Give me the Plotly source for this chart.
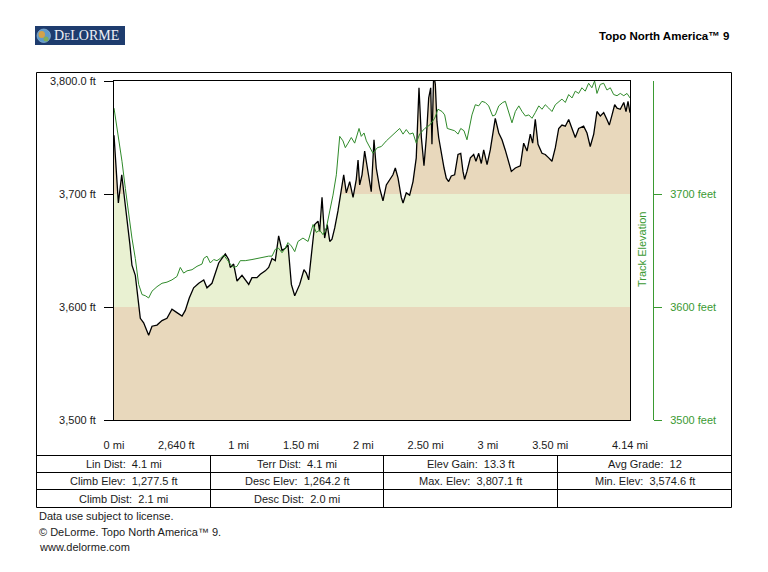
import plotly.graph_objects as go

W, H = 768, 572


def px(x):
    return x / W


def py(y):
    return 1 - y / H


# ---------------- data ----------------
terrain_mi = [0.000, 0.035, 0.062, 0.088, 0.110, 0.128, 0.144, 0.171, 0.211, 0.238, 0.278, 0.305, 0.345, 0.385,
              0.425, 0.465, 0.505, 0.546, 0.572, 0.604, 0.639, 0.680, 0.720, 0.746, 0.786, 0.813, 0.840, 0.866,
              0.893, 0.920, 0.933, 0.960, 0.987, 1.027, 1.053, 1.081, 1.107, 1.147, 1.174, 1.214, 1.241, 1.268,
              1.294, 1.321, 1.348, 1.374, 1.396, 1.423, 1.450, 1.490, 1.524, 1.543, 1.562, 1.583, 1.610, 1.637,
              1.650, 1.669, 1.690, 1.711, 1.731, 1.749, 1.771, 1.797, 1.824, 1.843, 1.864, 1.891, 1.918, 1.944,
              1.958, 1.971, 1.990, 2.011, 2.030, 2.043, 2.064, 2.086, 2.104, 2.132, 2.158, 2.185, 2.212, 2.238,
              2.257, 2.279, 2.305, 2.319, 2.345, 2.372, 2.399, 2.425, 2.447, 2.466, 2.487, 2.506, 2.525, 2.541,
              2.551, 2.565, 2.578, 2.591, 2.605, 2.626, 2.648, 2.666, 2.685, 2.706, 2.733, 2.760, 2.782, 2.800,
              2.813, 2.832, 2.859, 2.886, 2.904, 2.926, 2.947, 2.966, 2.993, 3.019, 3.059, 3.087, 3.113, 3.139,
              3.167, 3.188, 3.220, 3.260, 3.287, 3.314, 3.340, 3.359, 3.380, 3.402, 3.434, 3.460, 3.488, 3.514,
              3.541, 3.568, 3.594, 3.621, 3.648, 3.675, 3.701, 3.728, 3.768, 3.795, 3.821, 3.849, 3.875, 3.902,
              3.929, 3.955, 3.974, 3.996, 4.017, 4.036, 4.062, 4.090, 4.108, 4.124, 4.140]
terrain_ft = [3752, 3692, 3717, 3692, 3676, 3655, 3637, 3628, 3590, 3586, 3575, 3583, 3584, 3588,
              3590, 3598, 3595, 3592, 3597, 3608, 3617, 3621, 3624, 3617, 3621, 3630, 3639, 3643,
              3647, 3642, 3635, 3638, 3623, 3628, 3624, 3620, 3626, 3626, 3629, 3632, 3635, 3643,
              3641, 3663, 3650, 3652, 3655, 3620, 3610, 3620, 3633, 3630, 3624, 3646, 3673, 3676,
              3667, 3697, 3661, 3673, 3658, 3660, 3670, 3685, 3702, 3717, 3701, 3711, 3697, 3713,
              3730, 3708, 3717, 3738, 3725, 3717, 3702, 3748, 3723, 3705, 3694, 3708, 3713, 3717,
              3723, 3714, 3697, 3692, 3701, 3699, 3711, 3732, 3794, 3750, 3725, 3750, 3785, 3794,
              3744, 3807, 3797, 3764, 3750, 3735, 3723, 3714, 3711, 3716, 3717, 3735, 3736, 3720,
              3713, 3720, 3732, 3735, 3729, 3736, 3727, 3739, 3726, 3739, 3767, 3754, 3748, 3739,
              3727, 3720, 3723, 3725, 3745, 3738, 3753, 3745, 3766, 3744, 3736, 3735, 3732, 3729,
              3741, 3758, 3761, 3760, 3766, 3758, 3750, 3758, 3760, 3754, 3742, 3753, 3773, 3769,
              3772, 3766, 3761, 3770, 3779, 3776, 3775, 3781, 3773, 3782, 3772]

track_mi = [0.000, 0.038, 0.064, 0.091, 0.118, 0.144, 0.171, 0.198, 0.225, 0.251, 0.278, 0.305, 0.345, 0.385,
            0.425, 0.465, 0.505, 0.532, 0.559, 0.586, 0.626, 0.666, 0.706, 0.720, 0.746, 0.773, 0.800, 0.826,
            0.853, 0.880, 0.907, 0.933, 0.960, 0.987, 1.013, 1.053, 1.107, 1.147, 1.187, 1.241, 1.268, 1.294,
            1.321, 1.348, 1.374, 1.396, 1.423, 1.450, 1.476, 1.516, 1.557, 1.597, 1.623, 1.650, 1.677, 1.704,
            1.731, 1.757, 1.784, 1.811, 1.837, 1.856, 1.878, 1.904, 1.931, 1.966, 1.984, 2.006, 2.025, 2.052,
            2.078, 2.113, 2.145, 2.185, 2.225, 2.252, 2.292, 2.319, 2.345, 2.372, 2.399, 2.425, 2.452, 2.493,
            2.533, 2.573, 2.599, 2.632, 2.653, 2.674, 2.706, 2.733, 2.760, 2.782, 2.808, 2.832, 2.872, 2.899,
            2.926, 2.952, 2.979, 3.006, 3.038, 3.059, 3.087, 3.119, 3.140, 3.167, 3.193, 3.220, 3.248, 3.274,
            3.301, 3.328, 3.354, 3.380, 3.408, 3.434, 3.460, 3.488, 3.514, 3.541, 3.568, 3.594, 3.621, 3.648,
            3.675, 3.701, 3.728, 3.754, 3.781, 3.808, 3.834, 3.856, 3.875, 3.902, 3.929, 3.955, 3.982, 4.009,
            4.036, 4.062, 4.090, 4.116, 4.140]
track_ft = [3776, 3750, 3729, 3705, 3682, 3661, 3643, 3620, 3611, 3610, 3608, 3614, 3618, 3621,
            3622, 3624, 3627, 3635, 3630, 3632, 3633, 3636, 3638, 3643, 3645, 3639, 3642, 3641,
            3643, 3646, 3642, 3638, 3635, 3636, 3641, 3641, 3642, 3643, 3644, 3645, 3645, 3651,
            3652, 3648, 3652, 3657, 3654, 3649, 3658, 3661, 3658, 3673, 3666, 3668, 3664, 3670,
            3685, 3699, 3717, 3751, 3747, 3741, 3745, 3750, 3745, 3758, 3751, 3754, 3747, 3742,
            3736, 3741, 3742, 3747, 3751, 3754, 3758, 3753, 3757, 3753, 3754, 3745, 3753, 3758,
            3761, 3767, 3775, 3773, 3770, 3758, 3757, 3756, 3753, 3758, 3756, 3748, 3770, 3779,
            3778, 3782, 3781, 3778, 3769, 3770, 3778, 3781, 3782, 3773, 3763, 3773, 3778, 3773,
            3769, 3770, 3767, 3772, 3778, 3775, 3779, 3776, 3773, 3779, 3782, 3784, 3781, 3788,
            3785, 3791, 3789, 3794, 3791, 3798, 3794, 3800, 3789, 3797, 3798, 3792, 3794, 3788,
            3787, 3789, 3787, 3789, 3785]

x_tickvals = [0, 0.5, 1, 1.5, 2, 2.5, 3, 3.5, 4.14]
x_ticktext = ["0 mi", "2,640 ft", "1 mi", "1.50 mi", "2 mi", "2.50 mi", "3 mi", "3.50 mi", "4.14 mi"]
y_tickvals = [3500, 3600, 3700, 3800]
y_ticktext = ["3,500 ft", "3,600 ft", "3,700 ft", "3,800.0 ft"]
y2_tickvals = [3500, 3600, 3700]
y2_ticktext = ["3500 feet", "3600 feet", "3700 feet"]

band_edges = [3500, 3600, 3700, 3800]
BEIGE = "#E8D8BC"
PALE_GREEN = "#E9F1D2"
band_colors = [BEIGE, PALE_GREEN, BEIGE]

stats_rows = [
    ["Lin Dist:  4.1 mi", "Terr Dist:  4.1 mi", "Elev Gain:  13.3 ft", "Avg Grade:  12"],
    ["Climb Elev:  1,277.5 ft", "Desc Elev:  1,264.2 ft", "Max. Elev:  3,807.1 ft", "Min. Elev:  3,574.6 ft"],
    ["Climb Dist:  2.1 mi", "Desc Dist:  2.0 mi", "", ""],
]
footer_lines = ["Data use subject to license.", "© DeLorme. Topo North America™ 9.", "www.delorme.com"]
header_title = "Topo North America™ 9"
right_axis_title = "Track Elevation"

FONT = "Liberation Sans, Arial, sans-serif"
TXT = "#1a1a1a"
TRACK_GREEN = "#2F8A2A"
AXIS_GREEN = "#3A9A32"

# ---------------- geometry (pixels) ----------------
PL, PR, PT, PB = 114, 630, 81, 420
FRAME_L, FRAME_R, FRAME_T, FRAME_B = 36.5, 731.5, 72.5, 507.5
ROW_Y = [455.5, 472.5, 489.5]
COL_X = [210.5, 383.5, 557.5]

fig = go.Figure()

# base (invisible) terrain line for white fill above it
fig.add_trace(go.Scatter(x=terrain_mi, y=terrain_ft, mode="lines", line=dict(width=0, color="rgba(0,0,0,0)"),
                         hoverinfo="skip", showlegend=False))
fig.add_trace(go.Scatter(x=[terrain_mi[0], terrain_mi[-1]], y=[band_edges[-1], band_edges[-1]], mode="lines",
                         line=dict(width=0, color="rgba(0,0,0,0)"), fill="tonexty", fillcolor="white",
                         hoverinfo="skip", showlegend=False))
# terrain line
fig.add_trace(go.Scatter(x=terrain_mi, y=terrain_ft, mode="lines", line=dict(width=1.3, color="black"),
                         name="Terrain", showlegend=False))
# track line
fig.add_trace(go.Scatter(x=track_mi, y=track_ft, mode="lines", line=dict(width=1, color=TRACK_GREEN),
                         yaxis="y2", name=right_axis_title, showlegend=False))

shapes = []
for i, col in enumerate(band_colors):
    shapes.append(dict(type="rect", xref="x", yref="y", x0=terrain_mi[0], x1=terrain_mi[-1],
                       y0=band_edges[i], y1=band_edges[i + 1], fillcolor=col, line=dict(width=0), layer="below"))

# outer frame and table lines
line_k = dict(color="black", width=1)
shapes.append(dict(type="rect", xref="paper", yref="paper", x0=px(FRAME_L), x1=px(FRAME_R),
                   y0=py(FRAME_B), y1=py(FRAME_T), line=line_k))
for yy in ROW_Y:
    shapes.append(dict(type="line", xref="paper", yref="paper", x0=px(FRAME_L), x1=px(FRAME_R),
                       y0=py(yy), y1=py(yy), line=line_k))
for xx in COL_X:
    shapes.append(dict(type="line", xref="paper", yref="paper", x0=px(xx), x1=px(xx),
                       y0=py(ROW_Y[0]), y1=py(FRAME_B), line=line_k))

# logo
shapes.append(dict(type="rect", xref="paper", yref="paper", x0=px(35), x1=px(125), y0=py(45), y1=py(26),
                   fillcolor="#1E3C6E", line=dict(width=0)))
shapes.append(dict(type="circle", xref="paper", yref="paper", x0=px(37), x1=px(50.5), y0=py(42.5), y1=py(29),
                   fillcolor="#5E9ACB", line=dict(width=0.6, color="#9CC3E0")))
shapes.append(dict(type="circle", xref="paper", yref="paper", x0=px(38.5), x1=px(45), y0=py(38), y1=py(31),
                   fillcolor="#D2A24A", line=dict(width=0)))
shapes.append(dict(type="circle", xref="paper", yref="paper", x0=px(43.5), x1=px(48.5), y0=py(41.5), y1=py(36.5),
                   fillcolor="#7FAE5A", line=dict(width=0)))

annotations = []
annotations.append(dict(xref="paper", yref="paper", x=px(52), y=py(35.8), xanchor="left", yanchor="middle",
                        text="D<span style='font-size:10px'>E</span>LORME", showarrow=False,
                        font=dict(family="Liberation Serif, DejaVu Serif, serif", size=14, color="#EEF0F6")))
annotations.append(dict(xref="paper", yref="paper", x=px(731), y=py(36), xanchor="right", yanchor="middle",
                        text="<b>" + header_title + "</b>", showarrow=False,
                        font=dict(family=FONT, size=11.5, color="black")))
annotations.append(dict(xref="paper", yref="paper", x=px(642), y=py(250), xanchor="center", yanchor="middle",
                        text=right_axis_title, textangle=-90, showarrow=False,
                        font=dict(family=FONT, size=11, color=AXIS_GREEN)))

col_edges = [FRAME_L] + COL_X + [FRAME_R]
row_edges = ROW_Y + [FRAME_B]
for r, row in enumerate(stats_rows):
    for c, txt in enumerate(row):
        if not txt:
            continue
        cx = (col_edges[c] + col_edges[c + 1]) / 2
        cy = (row_edges[r] + row_edges[r + 1]) / 2
        annotations.append(dict(xref="paper", yref="paper", x=px(cx), y=py(cy), xanchor="center",
                                yanchor="middle", text=txt.replace("  ", "\u00a0 "), showarrow=False,
                                font=dict(family=FONT, size=11, color=TXT)))

for i, t in enumerate(footer_lines):
    annotations.append(dict(xref="paper", yref="paper", x=px(37), y=py(516 + i * 15.5), xanchor="left",
                            yanchor="middle", text=t, showarrow=False,
                            font=dict(family=FONT, size=11, color=TXT)))

fig.update_layout(
    width=W, height=H, margin=dict(l=0, r=0, t=0, b=0), template="none",
    paper_bgcolor="white", plot_bgcolor="white", showlegend=False, hovermode=False,
    font=dict(family=FONT, size=11, color=TXT),
    xaxis=dict(domain=[px(PL), px(PR)], range=[0, 4.14], showgrid=False, zeroline=False, showline=True,
               linecolor="black", linewidth=1, mirror=True, ticks="", tickvals=x_tickvals, ticktext=x_ticktext,
               tickfont=dict(size=11, color=TXT), ticklabelstandoff=15, automargin=False, fixedrange=True),
    yaxis=dict(domain=[py(PB), py(PT)], range=[band_edges[0], band_edges[-1]], showgrid=False, zeroline=False,
               showline=True, linecolor="black", linewidth=1, mirror=True, ticks="outside", ticklen=9,
               tickcolor="black", tickwidth=1, tickvals=y_tickvals, ticktext=y_ticktext,
               tickfont=dict(size=11, color=TXT), ticklabelstandoff=6, automargin=False, fixedrange=True),
    yaxis2=dict(overlaying="y", anchor="free", position=px(653), side="right",
                range=[band_edges[0], band_edges[-1]], showgrid=False, zeroline=False, showline=True,
                linecolor=AXIS_GREEN, linewidth=1, ticks="outside", ticklen=8, tickcolor=AXIS_GREEN,
                tickvals=y2_tickvals, ticktext=y2_ticktext, tickfont=dict(size=11, color=AXIS_GREEN),
                ticklabelstandoff=6, automargin=False, fixedrange=True),
    shapes=shapes, annotations=annotations,
)

fig.write_html("out.html", config=dict(displayModeBar=False, staticPlot=True))
